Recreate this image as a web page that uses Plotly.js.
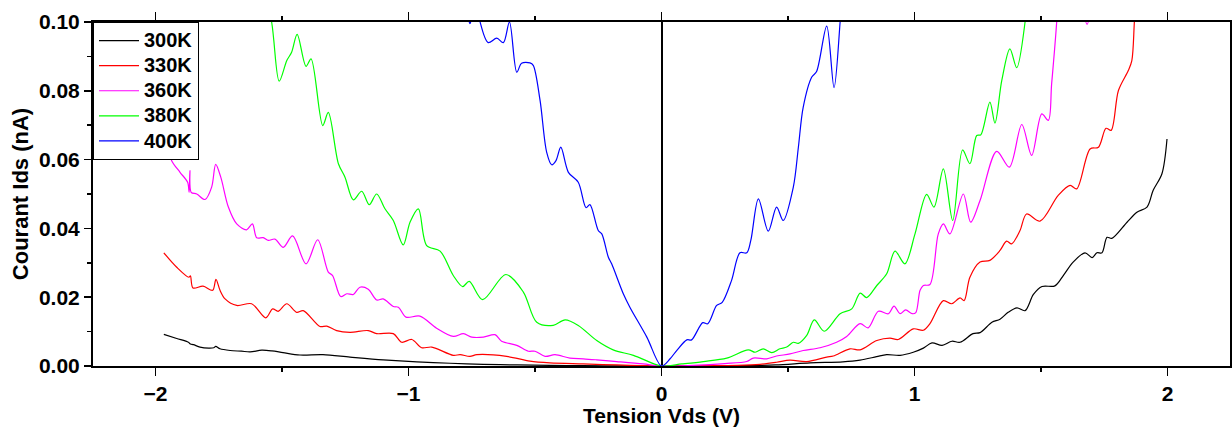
<!DOCTYPE html>
<html>
<head>
<meta charset="utf-8">
<script src="https://cdn.plot.ly/plotly-3.0.1.min.js"></script>
<style>
html,body{margin:0;padding:0;background:#fff;}
#chart{width:1232px;height:427px;}
</style>
</head>
<body>
<div id="chart"></div>
<script>
// Series names
const seriesNames = ["300K", "330K", "360K", "380K", "400K"];

// 300K
const v300 = [-1.967,-1.916,-1.87,-1.862,-1.85,-1.824,-1.79,-1.77,-1.762,-1.745,-1.705,-1.66,-1.626,-1.58,-1.54,-1.496,-1.429,-1.338,-1.231,-1.1,-0.967,-0.836,-0.705,-0.571,-0.44,-0.31,-0.15,0,0.15,0.3,0.45,0.587,0.717,0.785,0.85,0.89,0.943,0.995,1.035,1.069,1.109,1.148,1.18,1.231,1.259,1.306,1.338,1.37,1.405,1.437,1.47,1.504,1.555,1.59,1.627,1.674,1.702,1.721,1.741,1.761,1.78,1.84,1.879,1.919,1.943,1.978,1.998];
const i300 = [0.0092,0.0080,0.0069,0.0064,0.0062,0.0055,0.0052,0.0053,0.0057,0.0050,0.0045,0.0043,0.0041,0.0046,0.0044,0.0039,0.0032,0.0033,0.0026,0.0018,0.0012,0.0008,0.0005,0.0003,0.0002,0.0001,0.00005,0,0.00005,0.0001,0.0003,0.0009,0.0012,0.0017,0.0027,0.0033,0.0031,0.0040,0.0052,0.0067,0.0060,0.0072,0.0069,0.0094,0.0097,0.0127,0.0136,0.0156,0.0169,0.0161,0.0208,0.0231,0.0233,0.0265,0.0302,0.0329,0.0315,0.0329,0.0329,0.0374,0.0371,0.0418,0.0447,0.0462,0.0510,0.0559,0.0660];

// 330K
const v330 = [-1.967,-1.916,-1.868,-1.862,-1.852,-1.812,-1.774,-1.761,-1.745,-1.725,-1.679,-1.62,-1.564,-1.537,-1.515,-1.481,-1.442,-1.416,-1.35,-1.323,-1.284,-1.231,-1.159,-1.126,-1.06,-1.027,-0.987,-0.948,-0.908,-0.823,-0.796,-0.757,-0.73,-0.612,-0.52,-0.441,-0.309,-0.177,0,0.15,0.3,0.389,0.455,0.508,0.574,0.653,0.679,0.745,0.785,0.851,0.903,0.936,0.995,1.035,1.061,1.114,1.147,1.18,1.196,1.219,1.259,1.298,1.338,1.364,1.384,1.417,1.443,1.496,1.568,1.615,1.641,1.694,1.727,1.757,1.777,1.806,1.845,1.859,1.869,1.88];
const i330 = [0.0329,0.0287,0.0258,0.0262,0.0227,0.0232,0.0220,0.0252,0.0220,0.0195,0.0176,0.0181,0.0140,0.0166,0.0159,0.0181,0.0156,0.0161,0.0115,0.0116,0.0103,0.0098,0.0103,0.0094,0.0094,0.0069,0.0077,0.0053,0.0055,0.0031,0.0033,0.0028,0.0033,0.0028,0.0014,0.0009,0.0006,0.0003,0,0.0001,0.0002,0.0005,0.0011,0.0017,0.0013,0.0026,0.0029,0.0050,0.0047,0.0074,0.0081,0.0077,0.0108,0.0104,0.0123,0.0190,0.0181,0.0198,0.0190,0.0258,0.0302,0.0307,0.0336,0.0363,0.0355,0.0394,0.0442,0.0421,0.0496,0.0525,0.0515,0.0631,0.0636,0.0691,0.0685,0.0801,0.0859,0.0888,0.1000,0.1150];

// 360K
const v360 = [-1.97,-1.949,-1.936,-1.903,-1.873,-1.867,-1.864,-1.859,-1.837,-1.804,-1.778,-1.762,-1.742,-1.712,-1.679,-1.64,-1.617,-1.6,-1.574,-1.554,-1.528,-1.495,-1.458,-1.405,-1.359,-1.317,-1.3,-1.268,-1.244,-1.218,-1.192,-1.159,-1.126,-1.1,-1.06,-1.04,-1.01,-0.955,-0.889,-0.823,-0.783,-0.75,-0.704,-0.658,-0.632,-0.572,-0.526,-0.5,-0.46,-0.421,-0.362,-0.309,-0.256,-0.177,-0.072,0,0.126,0.25,0.337,0.363,0.416,0.455,0.508,0.56,0.627,0.692,0.732,0.785,0.817,0.857,0.897,0.919,0.943,0.965,0.991,1.005,1.022,1.035,1.061,1.094,1.114,1.14,1.193,1.222,1.259,1.325,1.375,1.424,1.463,1.503,1.529,1.542,1.562,1.58,1.65,1.682,1.71,1.75];
const i360 = [0.0720,0.0636,0.0597,0.0563,0.0534,0.0505,0.0568,0.0505,0.0500,0.0484,0.0520,0.0586,0.0549,0.0462,0.0413,0.0396,0.0413,0.0373,0.0373,0.0365,0.0369,0.0345,0.0378,0.0297,0.0367,0.0273,0.0263,0.0202,0.0210,0.0208,0.0229,0.0223,0.0192,0.0195,0.0173,0.0171,0.0142,0.0145,0.0110,0.0086,0.0094,0.0084,0.0084,0.0091,0.0072,0.0060,0.0043,0.0043,0.0028,0.0033,0.0023,0.0021,0.0018,0.0013,0.0006,0,0.0002,0.0007,0.0013,0.0023,0.0021,0.0029,0.0035,0.0045,0.0053,0.0069,0.0086,0.0123,0.0111,0.0159,0.0152,0.0174,0.0152,0.0163,0.0152,0.0155,0.0220,0.0234,0.0237,0.0384,0.0413,0.0384,0.0500,0.0418,0.0481,0.0624,0.0578,0.0702,0.0612,0.0733,0.0714,0.0820,0.1000,0.1250,0.1100,0.0993,0.1100,0.1300];

// 380K
const v380 = [-1.6,-1.541,-1.511,-1.481,-1.462,-1.44,-1.405,-1.385,-1.339,-1.317,-1.277,-1.251,-1.218,-1.185,-1.155,-1.126,-1.093,-1.06,-1.021,-0.994,-0.961,-0.928,-0.875,-0.823,-0.786,-0.76,-0.707,-0.615,-0.546,-0.493,-0.428,-0.381,-0.329,-0.256,-0.191,-0.111,0,0.08,0.165,0.258,0.343,0.37,0.402,0.436,0.468,0.495,0.521,0.541,0.574,0.604,0.643,0.706,0.752,0.785,0.811,0.851,0.89,0.923,0.962,1.002,1.048,1.077,1.114,1.151,1.19,1.219,1.246,1.262,1.298,1.318,1.345,1.377,1.404,1.437,1.45];
const i380 = [0.1200,0.1000,0.0828,0.0888,0.0912,0.0964,0.0871,0.0893,0.0699,0.0737,0.0588,0.0549,0.0483,0.0508,0.0469,0.0500,0.0457,0.0423,0.0352,0.0418,0.0457,0.0350,0.0334,0.0263,0.0231,0.0246,0.0193,0.0266,0.0215,0.0127,0.0118,0.0134,0.0118,0.0074,0.0047,0.0031,0,0.0006,0.0013,0.0023,0.0047,0.0040,0.0050,0.0039,0.0050,0.0055,0.0069,0.0066,0.0089,0.0134,0.0101,0.0152,0.0166,0.0212,0.0199,0.0234,0.0268,0.0334,0.0297,0.0384,0.0499,0.0462,0.0573,0.0423,0.0628,0.0588,0.0670,0.0672,0.0767,0.0706,0.0830,0.0922,0.0867,0.1000,0.1120];

// 400K
const v400 = [-0.8,-0.765,-0.757,-0.748,-0.73,-0.717,-0.685,-0.651,-0.625,-0.601,-0.572,-0.553,-0.52,-0.507,-0.48,-0.454,-0.434,-0.417,-0.398,-0.368,-0.329,-0.298,-0.283,-0.25,-0.236,-0.21,-0.197,-0.151,-0.125,-0.058,0,0.034,0.06,0.1,0.119,0.163,0.183,0.218,0.24,0.277,0.31,0.337,0.353,0.383,0.422,0.455,0.481,0.521,0.541,0.56,0.594,0.613,0.653,0.682,0.706,0.72];
const i400 = [0.1150,0.1015,0.0995,0.1020,0.1060,0.1000,0.0940,0.0953,0.0940,0.1000,0.0854,0.0880,0.0881,0.0874,0.0772,0.0622,0.0585,0.0597,0.0636,0.0563,0.0534,0.0460,0.0469,0.0394,0.0384,0.0316,0.0297,0.0210,0.0171,0.0084,0,0.0021,0.0045,0.0076,0.0076,0.0126,0.0123,0.0176,0.0185,0.0249,0.0329,0.0329,0.0365,0.0486,0.0392,0.0462,0.0423,0.0520,0.0636,0.0752,0.0840,0.0856,0.0988,0.0809,0.1000,0.1150];

const xs = [v300, v330, v360, v380, v400];
const ys = [i300, i330, i360, i380, i400];
const colors = ["#000000", "#ff0000", "#ff00ff", "#00ff00", "#0000ff"];

const traces = seriesNames.map((name, k) => ({
  x: xs[k], y: ys[k],
  name: '<span style="font-size:20px">' + name + '</span>',
  type: "scatter", mode: "lines",
  line: {color: colors[k], width: 1.2, shape: "spline", smoothing: 0.9}
}));

const fontFam = "'Liberation Sans', Arial, sans-serif";
const layout = {
  width: 1232, height: 427,
  margin: {l: 93, r: 2, t: 22, b: 61},
  paper_bgcolor: "#ffffff", plot_bgcolor: "#ffffff",
  font: {family: fontFam, size: 20, color: "#000", weight: "bold"},
  showlegend: true,
  legend: {
    x: 0, y: 1, xanchor: "left", yanchor: "top",
    bgcolor: "#ffffff", bordercolor: "#000", borderwidth: 1,
    font: {family: fontFam, size: 17, color: "#000", weight: "bold"},
    tracegroupgap: 0, itemwidth: 40
  },
  xaxis: {
    range: [-2.247, 2.247], tickmode: "linear", tick0: 0, dtick: 1,
    ticks: "outside", ticklen: 8, tickwidth: 1.5, tickcolor: "#000",
    minor: {dtick: 0.5, tick0: 0, ticks: "outside", ticklen: 4, tickwidth: 1.5, tickcolor: "#000"},
    showline: true, linecolor: "#000", linewidth: 2, mirror: "ticks",
    showgrid: false, zeroline: true, zerolinecolor: "#000", zerolinewidth: 2,
    tickfont: {family: fontFam, size: 21, color: "#000", weight: "bold"},
    title: {text: "Tension Vds (V)", font: {family: fontFam, size: 21, color: "#000", weight: "bold"}, standoff: 4}
  },
  yaxis: {
    range: [0, 0.1], tickmode: "linear", tick0: 0, dtick: 0.02, tickformat: ".2f",
    ticks: "outside", ticklen: 7, tickwidth: 1.5, tickcolor: "#000",
    minor: {dtick: 0.01, tick0: 0, ticks: "outside", ticklen: 4, tickwidth: 1.5, tickcolor: "#000"},
    showline: true, linecolor: "#000", linewidth: 2, mirror: "ticks",
    showgrid: false, zeroline: false,
    tickfont: {family: fontFam, size: 21, color: "#000", weight: "bold"},
    title: {text: "Courant Ids (nA)", font: {family: fontFam, size: 22, color: "#000", weight: "bold"}, standoff: 4}
  }
};

Plotly.newPlot("chart", traces, layout, {staticPlot: true, displayModeBar: false});
</script>
</body>
</html>
